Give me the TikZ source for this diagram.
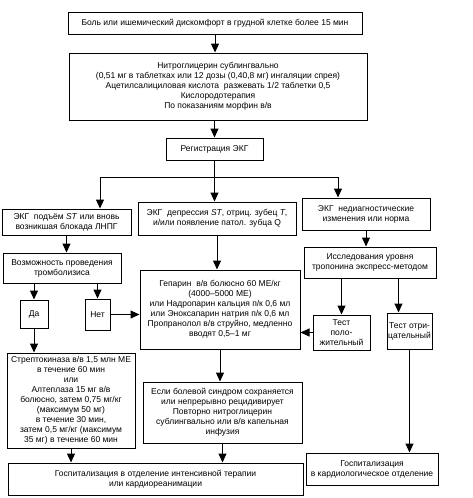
\documentclass[tikz,border=0pt]{standalone}
\usepackage{fontspec}
\setmainfont{Liberation Sans}
\usetikzlibrary{arrows.meta,calc}
\begin{document}
\begin{tikzpicture}[x=1pt,y=-1pt,
  box/.style={draw=black,line width=1pt,align=center,inner sep=1pt,
    font=\fontsize{8.5}{10}\selectfont},
  arr/.style={line width=1pt,-{Triangle[width=8pt,length=9pt]}},
  ln/.style={line width=1pt}]
\useasboundingbox (0,0) rectangle (472,498);
\node[box,minimum width=294pt,minimum height=22pt] (b1) at (215,23) {Боль или ишемический дискомфорт в грудной клетке более 15 мин};
\node[box,minimum width=298pt,minimum height=67pt] (b2) at (218,86.5) {Нитроглицерин сублингвально\\(0,51 мг в таблетках или 12 дозы (0,40,8 мг) ингаляции спрея)\\Ацетилсалициловая кислота \ разжевать 1/2 таблетки 0,5\\Кислородотерапия\\По показаниям морфин в/в};
\node[box,minimum width=97pt,minimum height=22pt] (reg) at (214.5,149) {Регистрация ЭКГ};
\node[box,minimum width=129pt,minimum height=26pt] (l1) at (66.5,222) {ЭКГ \ подъём \textit{ST} или вновь\\возникшая блокада ЛНПГ};
\node[box,minimum width=158pt,minimum height=33pt] (m1) at (217,218.5) {ЭКГ \ депрессия \textit{ST}, отриц. зубец \textit{T},\\и/или появление патол. зубца Q};
\node[box,minimum width=128pt,minimum height=32pt] (r1) at (366,214) {ЭКГ \ недиагностические\\изменения или норма};
\node[box,minimum width=118pt,minimum height=30pt] (poss) at (62,268) {Возможность проведения\\тромболизиса};
\node[box,minimum width=132pt,minimum height=31pt] (issl) at (370,262.5) {Исследования уровня\\тропонина экспресс-методом};
\node[box,minimum width=28pt,minimum height=28pt] (da) at (34,314) {Да};
\node[box,minimum width=25pt,minimum height=31pt] (net) at (97.5,314.5) {Нет};
\node[box,minimum width=160pt,minimum height=79pt] (hep) at (220,309.5) {Гепарин \ в/в болюсно 60 МЕ/кг\\(4000–5000 МЕ)\\или Надропарин кальция п/к 0,6 мл\\или Эноксапарин натрия п/к 0,6 мл\\Пропранолол в/в струйно, медленно\\вводят 0,5–1 мг};
\node[box,minimum width=57pt,minimum height=35pt] (tpos) at (341.5,332.5) {Тест\\поло-\\жительный};
\node[box,minimum width=45pt,minimum height=36pt] (tneg) at (409.5,331) {Тест отри-\\цательный};
\node[box,minimum width=128pt,minimum height=95pt] (strep) at (71,400.5) {Стрептокиназа в/в 1,5 млн МЕ\\в течение 60 мин\\или\\Алтеплаза 15 мг в/в\\болюсно, затем 0,75 мг/кг\\(максимум 50 мг)\\в течение 30 мин,\\затем 0,5 мг/кг (максимум\\35 мг) в течение 60 мин};
\node[box,minimum width=159pt,minimum height=61pt] (esli) at (222.5,412.5) {Если болевой синдром сохраняется\\или непрерывно рецидивирует\\Повторно нитроглицерин\\сублингвально или в/в капельная\\инфузия};
\node[box,minimum width=295pt,minimum height=32pt] (hosp1) at (155.5,479) {Госпитализация в отделение интенсивной терапии\\или кардиореанимации};
\node[box,minimum width=132pt,minimum height=32pt] (hosp2) at (372,469) {Госпитализация\\в кардиологическое отделение};
\coordinate (jl) at (100,177);
\coordinate (jr) at (338,177);
\draw[arr] (b1.south) -- (b1.south |- b2.north);
\draw[arr] (b2.south -| reg.north) -- (reg.north);
\draw[ln] (reg.south) -- (reg.south |- jl);
\draw[ln] (jl) -- (jr);
\draw[arr] (jl) -- (jl |- l1.north);
\draw[arr] (reg.south |- jl) -- (reg.south |- m1.north);
\draw[arr] (jr) -- (jr |- r1.north);
\draw[arr] (l1.south) -- (l1.south |- poss.north);
\draw[arr] (da.north |- poss.south) -- (da.north);
\draw[arr] (net.north |- poss.south) -- (net.north);
\draw[arr] (net.east) -- (net.east -| hep.west);
\draw[arr] (da.south) -- (da.south |- strep.north);
\draw[arr] (m1.south) -- (m1.south |- hep.north);
\draw[arr] (r1.south) -- (r1.south |- issl.north);
\draw[arr] (tpos.north |- issl.south) -- (tpos.north);
\draw[arr] ([xshift=-11pt]tneg.north |- issl.south) -- ([xshift=-11pt]tneg.north);
\draw[arr] (tpos.west) -- (tpos.west -| hep.east);
\draw[arr] (hep.south) -- (hep.south |- esli.north);
\draw[arr] (tneg.south) -- (tneg.south |- hosp2.north);
\draw[arr] (strep.south) -- (strep.south |- hosp1.north);
\draw[arr] (esli.south) -- (esli.south |- hosp1.north);
\end{tikzpicture}
\end{document}
